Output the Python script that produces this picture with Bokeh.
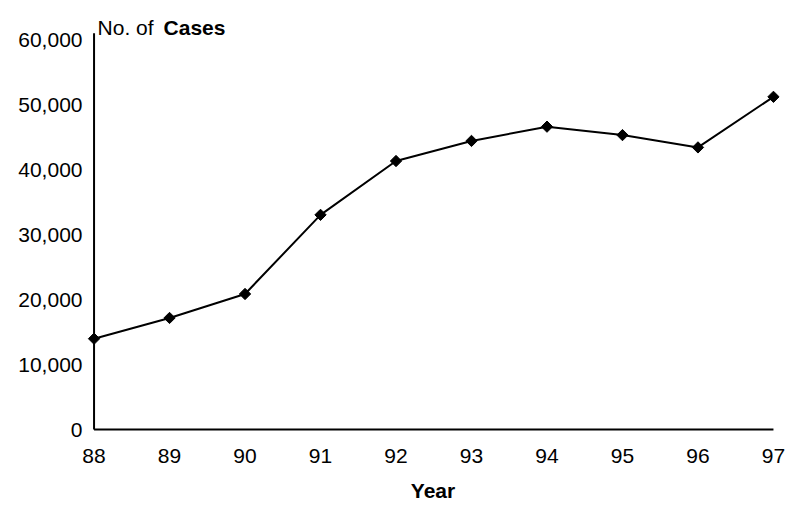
import math
from bokeh.plotting import figure
from bokeh.models import Range1d, FixedTicker, NumeralTickFormatter, Label
from bokeh.embed import file_html
from bokeh.resources import INLINE

years = [88, 89, 90, 91, 92, 93, 94, 95, 96, 97]
cases = [14000, 17200, 20900, 33100, 41400, 44500, 46700, 45400, 43500, 51300]
y_ticks = [0, 10000, 20000, 30000, 40000, 50000, 60000]
x_tick_labels = {y: str(y) for y in years}
y_axis_top = 61100

FONT = "Liberation Sans"

W, H = 785, 504
p = figure(width=W, height=H, output_backend="svg", toolbar_location=None,
           x_range=Range1d(87.9, 97.08), y_range=Range1d(-462, 65846),
           min_border_left=86, min_border_right=W - 779, min_border_top=2,
           min_border_bottom=H - 433)
p.outline_line_color = None
p.grid.visible = False
p.background_fill_color = "white"
p.border_fill_color = "white"

for ax in (p.xaxis, p.yaxis):
    ax.axis_line_color = None
    ax.major_tick_line_color = None
    ax.minor_tick_line_color = None
    ax.major_tick_out = 0
    ax.major_tick_in = 0
    ax.minor_tick_out = 0
    ax.minor_tick_in = 0
    ax.major_label_text_font = FONT
    ax.major_label_text_font_size = "21px"
    ax.major_label_text_color = "black"

p.xaxis.ticker = FixedTicker(ticks=years)
p.xaxis.major_label_overrides = x_tick_labels
p.yaxis.ticker = FixedTicker(ticks=y_ticks)
p.yaxis.formatter = NumeralTickFormatter(format="0,0")
p.xaxis.major_label_standoff = 16
p.yaxis.major_label_standoff = 4

p.xaxis.axis_label = "Year"
p.xaxis.axis_label_text_font = FONT
p.xaxis.axis_label_text_font_size = "21px"
p.xaxis.axis_label_text_font_style = "bold"
p.xaxis.axis_label_text_color = "black"
p.xaxis.axis_label_standoff = 13

# axis lines
p.line([years[0], years[0]], [0, y_axis_top], line_color="black", line_width=2)
p.line([years[0], years[-1]], [0, 0], line_color="black", line_width=2)

# data
p.line(years, cases, line_color="black", line_width=2)
p.scatter(years, cases, marker="square", angle=math.pi / 4, size=8,
          fill_color="black", line_color="black")

p.add_layout(Label(x=years[0], y=62000, x_offset=3.5, y_offset=0, text="No. of ",
                   text_font=FONT, text_font_size="21px", text_color="black",
                   text_baseline="alphabetic"))
p.add_layout(Label(x=years[0], y=62000, x_offset=69.5, y_offset=0, text="Cases",
                   text_font=FONT, text_font_size="21px", text_font_style="bold",
                   text_color="black", text_baseline="alphabetic"))

open("out.html", "w").write(file_html(p, INLINE))
